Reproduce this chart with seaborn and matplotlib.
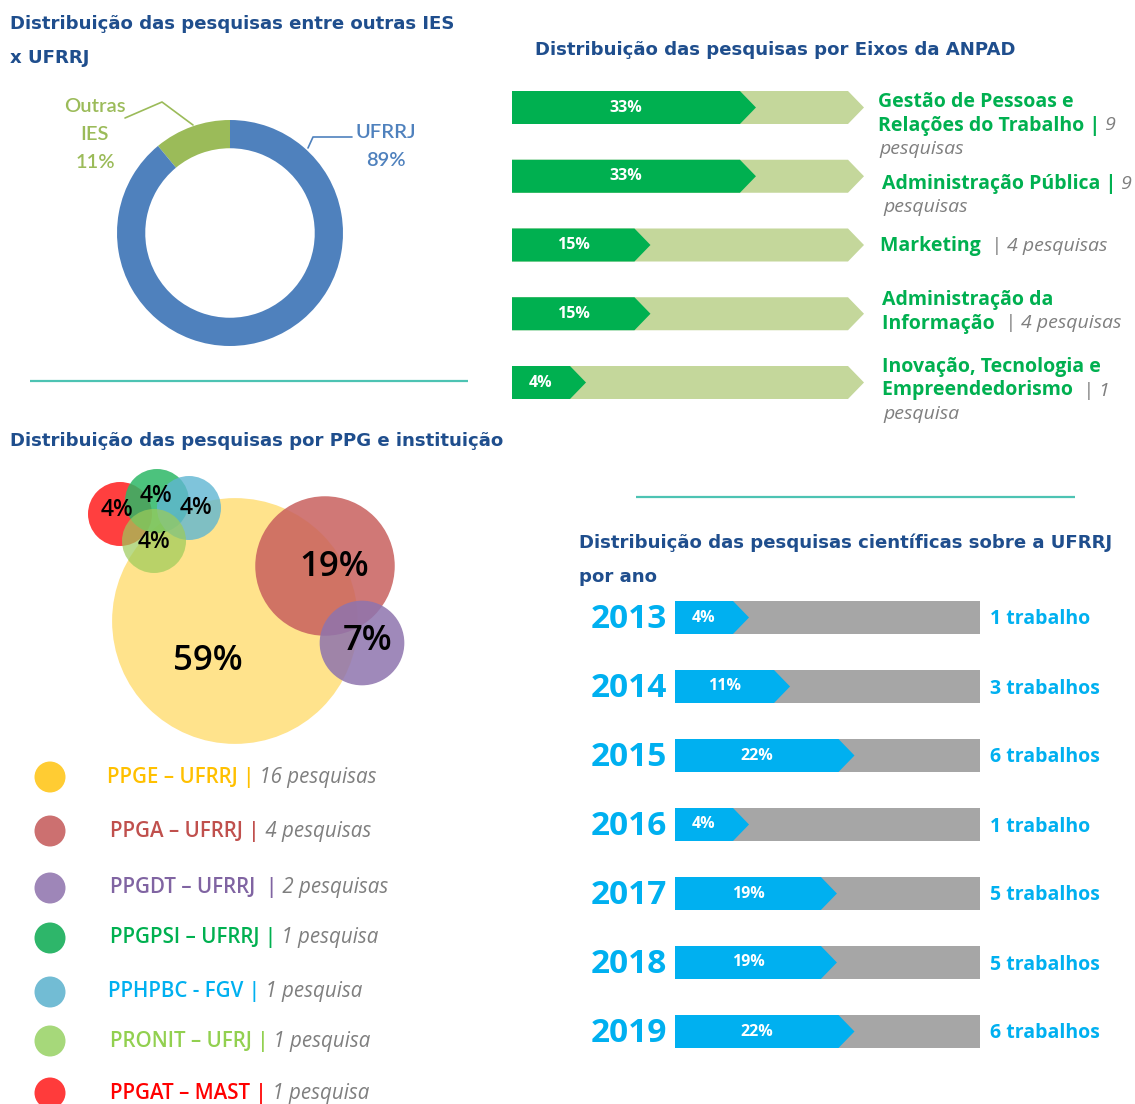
import matplotlib
matplotlib.use("Agg")
import matplotlib.pyplot as plt
from matplotlib.patches import Circle
import seaborn as sns
import numpy as np

sns.set_theme(style="white")
plt.rcParams['font.family'] = ['Open Sans', 'DejaVu Sans']

# ---------------- DATA ----------------
ies_labels = ["Outras\nIES", "UFRRJ"]
ies_pct = [11, 89]

eixos = ["Gestão de Pessoas e\nRelações do Trabalho", "Administração Pública", "Marketing",
         "Administração da\nInformação", "Inovação, Tecnologia e\nEmpreendedorismo"]
eixo_n = [9, 9, 4, 4, 1]
eixo_pct = [33, 33, 15, 15, 4]

ppgs = ["PPGE – UFRRJ", "PPGA – UFRRJ", "PPGDT – UFRRJ", "PPGPSI – UFRRJ",
        "PPHPBC - FGV", "PRONIT – UFRJ", "PPGAT – MAST"]
ppg_n = [16, 4, 2, 1, 1, 1, 1]
ppg_pct = [59, 19, 7, 4, 4, 4, 4]

anos = ["2013", "2014", "2015", "2016", "2017", "2018", "2019"]
ano_n = [1, 3, 6, 1, 5, 5, 6]
ano_pct = [4, 11, 22, 4, 19, 19, 22]

# ---------------- STYLE / LAYOUT ----------------
W, H = 1135, 1104
TITLE = "#1F4E8D"
TFONT = ["DejaVu Sans"]
GREEN_D, GREEN_L = "#00B050", "#C4D79B"
BLUE_D, GRAY_B = "#00B0F0", "#A6A6A6"
GRAYTXT = "#7F7F7F"
ies_colors = ["#9BBB59", "#4F81BD"]
ppg_dot = ["#FFCC33", "#CC7070", "#9E86B8", "#2EB66A", "#72BCD4", "#A6D87A", "#FF3B3B"]
ppg_txt = ["#FFC000", "#C0504D", "#8064A2", "#00B050", "#00B0F0", "#92D050", "#FF0000"]
bub_face = ["#FFE38C", "#C8605E", "#8E74AE", "#2DB866", "#5FB6D2", "#9CCB5A", "#FF2A2A"]
bub_alpha = [1.0, 0.85, 0.85, 0.85, 0.8, 0.7, 0.9]
bub_center = [(235, 621), (325, 566), (362, 643), (157, 501), (189, 508), (154, 541), (120, 514)]
bub_label = [(208, 661), (334, 567), (368, 641), (156, 496), (196, 508), (154, 542), (117, 510)]
bub_fs = [25, 25, 25, 16.5, 16.5, 16.5, 16.5]
bub_order = [0, 1, 2, 6, 3, 4, 5]

fig = plt.figure(figsize=(W / 100, H / 100), dpi=100)
bg = fig.add_axes([0, 0, 1, 1])
bg.set_xlim(0, W)
bg.set_ylim(H, 0)
bg.axis("off")


def px_axes(x0, y0, x1, y1):
    a = fig.add_axes([x0 / W, 1 - y1 / H, (x1 - x0) / W, (y1 - y0) / H])
    a.axis("off")
    return a


def runs(x, y, parts, ax=bg):
    """parts: list of (text, color, weight, style, size)"""
    prev = None
    for (t, c, w, s, fs) in parts:
        if prev is None:
            prev = ax.text(x, y, t, color=c, fontweight=w, fontstyle=s, fontsize=fs,
                           ha="left", va="center")
        else:
            prev = ax.annotate(t, xy=(1, 0.5), xycoords=prev, color=c, fontweight=w,
                               fontstyle=s, fontsize=fs, ha="left", va="center")
    return prev


# ---------------- TITLES ----------------
tfs = 13.1
tkw = dict(color=TITLE, fontsize=tfs, fontweight="bold", va="center", family=TFONT)
bg.text(10, 24, "Distribuição das pesquisas entre outras IES", **tkw)
bg.text(10, 58, "x UFRRJ", **tkw)
bg.text(535, 50, "Distribuição das pesquisas por Eixos da ANPAD", **tkw)
bg.text(10, 441, "Distribuição das pesquisas por PPG e instituição", **tkw)
bg.text(579, 543, "Distribuição das pesquisas científicas sobre a UFRRJ", **tkw)
bg.text(579, 577, "por ano", **tkw)

# separators
bg.plot([30, 468], [381, 381], color="#4DC3B3", lw=1.6, solid_capstyle="butt")
bg.plot([636, 1075], [497, 497], color="#4DC3B3", lw=1.6, solid_capstyle="butt")

# ---------------- DONUT ----------------
axd = px_axes(117, 119, 343, 347)
axd.pie(ies_pct, colors=ies_colors, startangle=90, counterclock=True, radius=1.0,
        wedgeprops=dict(width=0.25, edgecolor="none"))
axd.set_xlim(-1, 1)
axd.set_ylim(-1, 1)
axd.set_aspect("equal")
lab_fs = 14.5
dkw = dict(fontsize=lab_fs, fontweight="semibold", ha="center", va="center",
           family=["Lato", "DejaVu Sans"])
for j, ln in enumerate(ies_labels[0].split("\n") + [f"{ies_pct[0]}%"]):
    bg.text(95, 107 + 28 * j, ln, color=ies_colors[0], **dkw)
for j, ln in enumerate(ies_labels[1].split("\n") + [f"{ies_pct[1]}%"]):
    bg.text(386, 132 + 29 * j, ln, color=ies_colors[1], **dkw)
bg.plot([125, 162, 193], [118, 102, 125], color=ies_colors[0], lw=1.2)
bg.plot([308, 313, 352], [148, 137, 137], color=ies_colors[1], lw=1.2)

# ---------------- BAR HELPERS ----------------
PXU = 5.86      # pixels per percent unit
BASE = -5.9     # bar start in percent units
TIP = 16 / PXU  # arrow tip length


def bar_axes(x0, y_first, spacing, n, right_units):
    top = y_first - spacing * 0.5
    bottom = y_first + spacing * (n - 0.5)
    x1 = x0 + (right_units - BASE) * PXU
    a = px_axes(x0, top, x1, bottom)
    a.set_xlim(BASE, right_units)
    a.set_ylim(n - 0.5, -0.5)
    return a


def arrow(a, y, end, h, color, tip=True):
    y0, y1 = y - h / 2, y + h / 2
    if tip:
        xs = [BASE, end, end + TIP, end, BASE]
        ys = [y0, y0, y, y1, y1]
    else:
        xs = [BASE, end, end, BASE]
        ys = [y0, y0, y1, y1]
    a.fill(xs, ys, color=color, lw=0)


pfs = 11.5

# ---------------- EIXOS BARS ----------------
eixo_bg_end = (848 - 512) / PXU + BASE
axe = bar_axes(512, 107.5, 68.75, len(eixos), eixo_bg_end + TIP + 0.3)
hb = 33 / 68.75
for i, p in enumerate(eixo_pct):
    arrow(axe, i, eixo_bg_end, hb, GREEN_L)
    arrow(axe, i, p, hb, GREEN_D)
    axe.text((BASE + p) / 2, i, f"{p}%", color="white", fontsize=pfs, fontweight="bold",
             ha="center", va="center")

gfs = 14
eixo_text_x = [878, 882, 880, 882, 882]
eixo_text_y = [102, 184, 246, 300, 367]
pipe_green = [True, True, False, False, False]
count_wrap = [True, True, False, False, True]
lh = 23.5
for i, name in enumerate(eixos):
    lines = name.split("\n")
    x, y = eixo_text_x[i], eixo_text_y[i]
    for j, ln in enumerate(lines[:-1]):
        bg.text(x, y + j * lh, ln, color=GREEN_D, fontsize=gfs, fontweight="bold", va="center")
    yl = y + (len(lines) - 1) * lh
    word = "pesquisas" if eixo_n[i] > 1 else "pesquisa"
    if pipe_green[i]:
        parts = [(lines[-1] + " |", GREEN_D, "bold", "normal", gfs),
                 (f" {eixo_n[i]}", GRAYTXT, "normal", "italic", gfs)]
    else:
        parts = [(lines[-1] + " ", GREEN_D, "bold", "normal", gfs),
                 (f" | {eixo_n[i]}", GRAYTXT, "normal", "italic", gfs)]
    if not count_wrap[i]:
        parts[-1] = (parts[-1][0] + " " + word,) + parts[-1][1:]
    runs(x, yl, parts)
    if count_wrap[i]:
        bg.text(x + 1, yl + lh, word, color=GRAYTXT, fontsize=gfs, fontstyle="italic",
                va="center")

# ---------------- YEAR BARS ----------------
ano_bg_end = (980 - 675) / PXU + BASE
axy = bar_axes(675, 617.5, 69, len(anos), ano_bg_end + TIP + 0.3)
for i, p in enumerate(ano_pct):
    arrow(axy, i, ano_bg_end, hb * 68.75 / 69, GRAY_B, tip=False)
    arrow(axy, i, p, hb * 68.75 / 69, BLUE_D)
    axy.text((BASE + p) / 2, i, f"{p}%", color="white", fontsize=pfs, fontweight="bold",
             ha="center", va="center")
    yc = 617.5 + 69 * i
    bg.text(667, yc + 2, anos[i], color=BLUE_D, fontsize=24, fontweight="bold",
            ha="right", va="center")
    word = "trabalhos" if ano_n[i] > 1 else "trabalho"
    bg.text(990, yc + 2, f"{ano_n[i]} {word}", color=BLUE_D, fontsize=gfs,
            fontweight="bold", ha="left", va="center")

# ---------------- BUBBLES ----------------
axb = px_axes(60, 455, 450, 765)
axb.set_xlim(60, 450)
axb.set_ylim(765, 455)
axb.set_aspect("equal")
K = 16.0
for z, i in enumerate(bub_order):
    r = K * np.sqrt(ppg_pct[i])
    axb.add_patch(Circle(bub_center[i], r, facecolor=bub_face[i], alpha=bub_alpha[i],
                         lw=0, zorder=z + 1))
for i in range(len(ppgs)):
    axb.text(*bub_label[i], f"{ppg_pct[i]}%", fontsize=bub_fs[i], color="black",
             fontweight="semibold", ha="center", va="center", zorder=20)

# ---------------- LEGEND ----------------
leg_y = [777, 831, 888, 938, 992, 1041, 1093]
leg_x = [107, 110, 110, 110, 108, 110, 110]
sns.scatterplot(x=[50] * len(ppgs), y=leg_y, hue=ppgs, palette=dict(zip(ppgs, ppg_dot)),
                s=(31 * 0.72) ** 2, linewidth=0, legend=False, ax=bg, clip_on=False)
bg.set_xlim(0, W)
bg.set_ylim(H, 0)
bg.axis("off")
lfs = 14.8
for i, name in enumerate(ppgs):
    word = "pesquisas" if ppg_n[i] > 1 else "pesquisa"
    sep = "  |" if name.startswith("PPGDT") else " |"
    runs(leg_x[i], leg_y[i], [(name + sep, ppg_txt[i], "semibold", "normal", lfs),
                              (f" {ppg_n[i]} {word}", GRAYTXT, "normal", "italic", lfs)])

fig.savefig("out.png", dpi=100, facecolor="white")
